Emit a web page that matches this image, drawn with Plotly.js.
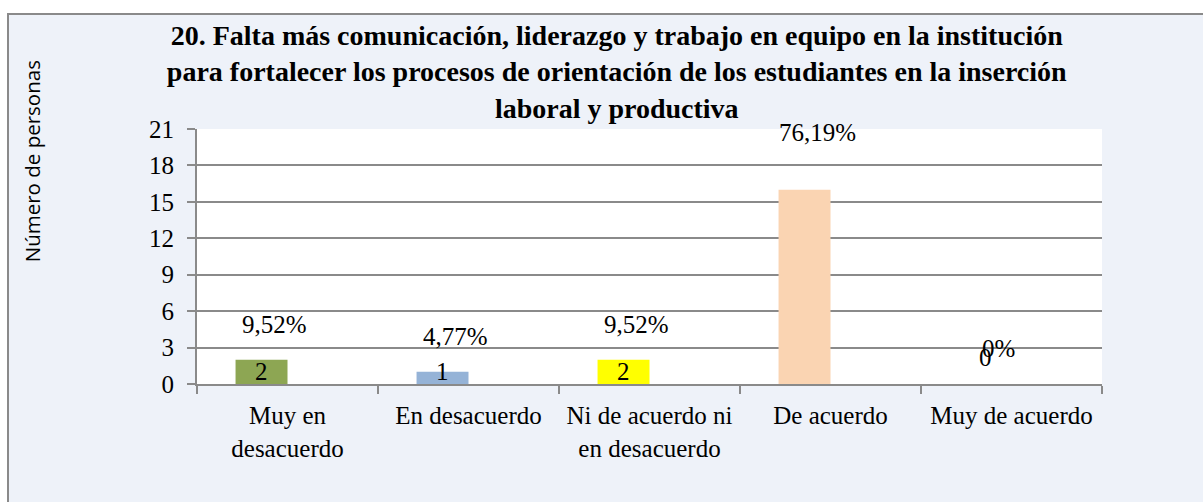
<!DOCTYPE html>
<html>
<head>
<meta charset="utf-8">
<script src="https://cdn.plot.ly/plotly-3.0.1.min.js"></script>
<style>
  html, body { margin: 0; padding: 0; background: #ffffff; width: 1203px; height: 502px; overflow: hidden; }
  #frame { position: absolute; left: 7px; top: 13px; width: 1194px; height: 487px;
           border-left: 2px solid #8a8a8a; border-top: 2px solid #8a8a8a; background: #EEF2F9; }
  #chart { width: 1194px; height: 487px; }
</style>
</head>
<body>
<div id="frame"><div id="chart"></div></div>
<script>
// ---- data ----
const categories = ['Muy en<br>desacuerdo', 'En desacuerdo', 'Ni de acuerdo ni<br>en desacuerdo', 'De acuerdo', 'Muy de acuerdo'];
const counts = [2, 1, 2, 16, 0];
const pctLabels = ['9,52%', '4,77%', '9,52%', '76,19%', '0%'];
const barColors = ['#8DA653', '#95B3D7', '#FFFF00', '#FAD4B2', '#C0504D'];
const titleLines = [
  '20. Falta más comunicación, liderazgo y trabajo en equipo en la institución',
  'para fortalecer los procesos de orientación de los estudiantes en la inserción',
  'laboral y productiva'
];
const yTitle = 'Número de personas';
const yTicks = [0, 3, 6, 9, 12, 15, 18, 21];

// ---- styling ----
const SERIF = 'Liberation Serif';
const GRID = '#8a8a8a';
const BAR_W = 0.287;          // bar occupies left half of an Excel 2-series cluster
const YMAX = 21;

const barTrace = {
  type: 'bar',
  x: categories,
  y: counts,
  width: BAR_W,
  offset: -BAR_W,
  marker: { color: barColors, line: { width: 0 } },
  hoverinfo: 'x+y',
  showlegend: false
};

const annotations = [];
categories.forEach((c, i) => {
  const v = counts[i];
  let vy = 1.0;
  if (v >= 10) vy = -0.75;
  else if (v === 0) vy = 2.2;
  annotations.push({
    xref: 'x', yref: 'y', x: i - BAR_W / 2, y: vy,
    text: String(v), showarrow: false, xanchor: 'center', yanchor: 'middle',
    font: { family: SERIF, size: 25, color: '#000' }
  });
  let py = v + 2.9;
  if (py > 15) py = YMAX - 0.3;
  annotations.push({
    xref: 'x', yref: 'y', x: i - 0.07, y: py,
    text: pctLabels[i], showarrow: false, xanchor: 'center', yanchor: 'middle',
    font: { family: SERIF, size: 25, color: '#000' }
  });
});
annotations.push({
  xref: 'paper', yref: 'paper', x: -0.183, y: 0.875,
  text: yTitle, textangle: -90, showarrow: false, xanchor: 'center', yanchor: 'middle',
  font: { family: 'Open Sans', size: 20.5, color: '#000' }
});

const layout = {
  width: 1194, height: 487,
  margin: { l: 188, r: 101, t: 114, b: 118, pad: 0 },
  paper_bgcolor: '#EEF2F9',
  plot_bgcolor: '#FFFFFF',
  showlegend: false,
  title: {
    text: titleLines.join('<br>'),
    font: { family: SERIF, size: 28, color: '#000', weight: 700 },
    xref: 'container', x: 0.509, xanchor: 'center',
    yref: 'container', y: 1 - 30 / 487, yanchor: 'top'
  },
  xaxis: {
    type: 'category',
    tickson: 'boundaries',
    ticks: 'outside', ticklen: 8, tickwidth: 2, tickcolor: GRID,
    showline: true, linecolor: GRID, linewidth: 2,
    showgrid: false, zeroline: false,
    ticklabelstandoff: 8,
    tickfont: { family: SERIF, size: 25, color: '#000' },
    fixedrange: true
  },
  yaxis: {
    range: [0, YMAX],
    tickvals: yTicks,
    ticks: 'outside', ticklen: 8, tickwidth: 2, tickcolor: GRID,
    showline: true, linecolor: GRID, linewidth: 2,
    showgrid: true, gridcolor: GRID, gridwidth: 2,
    zeroline: false,
    ticklabelstandoff: 8,
    tickfont: { family: SERIF, size: 25, color: '#000' },
    fixedrange: true
  },
  annotations: annotations
};

Plotly.newPlot('chart', [barTrace], layout, { displayModeBar: false });
</script>
</body>
</html>
